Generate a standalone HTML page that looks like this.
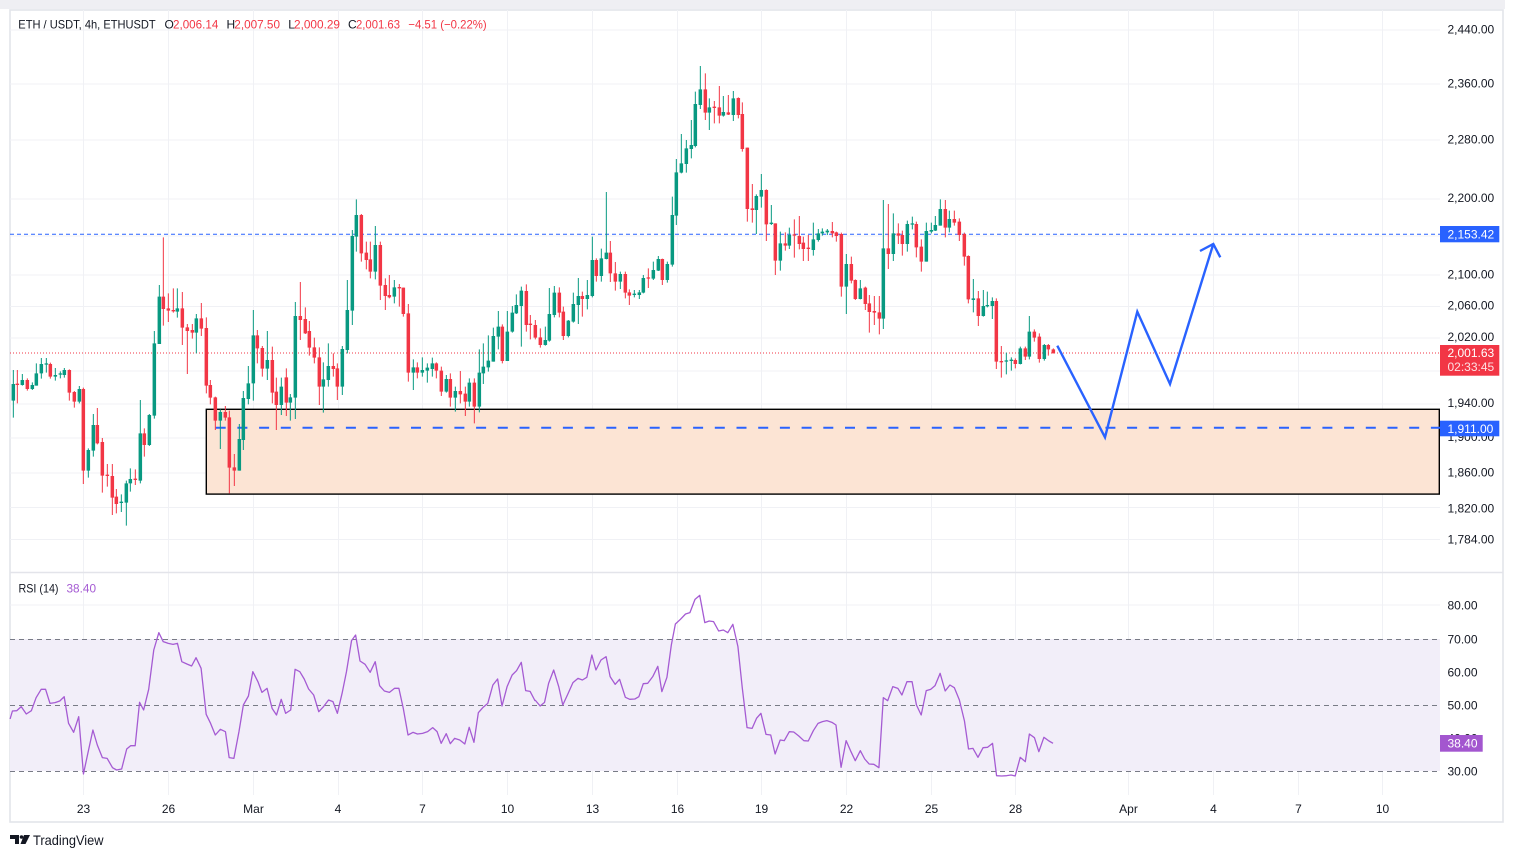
<!DOCTYPE html>
<html><head><meta charset="utf-8"><style>
html,body{margin:0;padding:0;background:#fff;width:1514px;height:858px;overflow:hidden}
svg{display:block}
text{font-family:"Liberation Sans",Arial,sans-serif}
</style></head><body>
<svg width="1514" height="858" viewBox="0 0 1514 858" xmlns="http://www.w3.org/2000/svg">
<rect x="0" y="0" width="1514" height="858" fill="#fff"/>
<rect x="0" y="0" width="1505" height="9" fill="#efeff3"/>
<rect x="10" y="10" width="1493" height="812" fill="#fff" stroke="#e3e4ea" stroke-width="1.6"/>
<g stroke="#f0f1f5" stroke-width="1">
<path d="M10 30H1440M10 84H1440M10 140H1440M10 199H1440M10 236H1440M10 275H1440M10 306.5H1440M10 338H1440M10 371H1440M10 404H1440M10 438H1440M10 473H1440M10 507.5H1440M10 539.5H1440"/>
<path d="M10 605H1440M10 672H1440M10 738H1440"/>
<path d="M83.5 10V795M168.5 10V795M253.5 10V795M338.5 10V795M422.5 10V795M507.5 10V795M592.5 10V795M677.5 10V795M761.5 10V795M846.5 10V795M931.5 10V795M1015.5 10V795M1128.5 10V795M1213.5 10V795M1298.5 10V795M1382.5 10V795"/>
</g>
<path d="M10 572.5H1503" stroke="#e3e4ea" stroke-width="1.5"/>
<rect x="206.3" y="409.3" width="1233" height="84.8" fill="#fce4d4" stroke="#000" stroke-width="1.4"/>
<path d="M10 234.3H1440" stroke="#2962ff" stroke-width="1" stroke-dasharray="4 3"/>
<path d="M215.7 427.7H1440" stroke="#2962ff" stroke-width="2" stroke-dasharray="10 11.7"/>
<path d="M10 353H1440" stroke="#f23645" stroke-width="1" stroke-dasharray="1 2"/>
<g fill="none" stroke-linecap="butt">
<g transform="translate(5,230) scale(0.333333)">
<path stroke="#089981" stroke-width="3" d="M25 420V563 M52 432V467 M82 457V480 M94 400V467 M109 384V446 M124 384V428 M151 414V452 M166 424V445 M178 414V443 M223 468V520 M250 655V743 M265 552V680 M349 793V846 M364 752V887 M376 715V785 M406 510V760 M433 552V648 M448 303V566 M463 165V342 M517 175V263 M574 252V370 M646 538V657 M703 582V722 M715 483V660 M730 408V523 M745 240V512 M787 303V450"/>
<path stroke="#089981" stroke-width="10.5" d="M25 462V512 M52 450V465 M82 465V477 M94 430V467 M109 402V430 M124 400V404 M151 435V440 M166 430V434 M178 420V435 M223 477V515 M250 660V722 M265 585V662 M349 815V819 M364 760V818 M376 747V760 M406 610V752 M433 555V645 M448 340V557 M463 200V342 M517 235V245 M574 265V308 M646 546V572 M703 627V722 M715 504V630 M730 460V507 M745 316V460 M787 390V416"/>
<path stroke="#f23645" stroke-width="3" d="M37 420V520 M67 445V482 M136 398V446 M193 418V512 M208 483V533 M235 473V762 M277 534V643 M292 624V788 M307 702V770 M322 702V855 M334 777V850 M391 718V765 M418 595V680 M475 22V287 M490 190V276 M505 175V248 M532 186V345 M547 282V432 M562 282V326 M589 219V318 M604 262V490 M616 450V523 M631 500V600 M661 528V572 M673 542V790 M688 672V768 M757 300V400 M772 348V440"/>
<path stroke="#f23645" stroke-width="10.5" d="M37 461V465 M67 450V477 M136 402V440 M193 420V488 M208 486V515 M235 477V722 M277 585V640 M292 636V737 M307 734V738 M322 738V803 M334 800V822 M391 746V750 M418 610V645 M475 200V237 M490 235V242 M505 240V244 M532 235V293 M547 292V303 M562 300V308 M589 265V296 M604 294V467 M616 465V503 M631 502V572 M661 546V563 M673 562V713 M688 712V722 M757 316V355 M772 354V416"/>
</g>
<g transform="translate(265,190) scale(0.333333)">
<path stroke="#089981" stroke-width="3" d="M49 563V675 M76 612V692 M91 336V687 M175 517V668 M190 460V590 M232 468V615 M247 270V490 M262 120V405 M274 28V185 M331 108V268 M388 270V340 M445 508V600 M472 502V560 M487 520V578 M502 503V560 M544 555V608 M571 590V665 M613 565V650 M643 478V667 M655 460V582 M670 436V545 M685 413V515 M700 363V478 M727 363V513 M742 348V428 M754 313V372 M769 290V470"/>
<path stroke="#089981" stroke-width="10.5" d="M49 590V645 M76 622V638 M91 378V623 M175 568V590 M190 528V570 M232 477V590 M247 360V480 M262 138V362 M274 75V140 M331 165V245 M388 292V320 M445 532V548 M472 540V548 M487 533V542 M502 520V537 M544 567V605 M571 603V623 M613 578V635 M643 548V650 M655 530V550 M670 512V532 M685 438V515 M700 410V440 M727 425V513 M742 368V425 M754 345V370 M769 302V348"/>
<path stroke="#f23645" stroke-width="3" d="M22 470V640 M34 563V720 M64 535V678 M106 276V450 M121 352V432 M133 393V497 M148 443V520 M163 472V645 M205 490V560 M217 520V630 M289 72V215 M304 155V238 M316 155V265 M346 155V330 M361 265V360 M373 255V325 M403 282V350 M415 293V380 M430 342V575 M457 517V565 M514 517V565 M529 530V618 M556 550V650 M586 543V640 M601 590V678 M628 565V700 M712 403V520"/>
<path stroke="#f23645" stroke-width="10.5" d="M22 510V608 M34 605V645 M64 562V638 M106 378V390 M121 387V430 M133 423V473 M148 472V503 M163 502V590 M205 528V537 M217 535V590 M289 75V190 M304 188V210 M316 208V245 M346 165V287 M361 285V318 M373 315V322 M403 291V295 M415 293V372 M430 370V548 M457 532V548 M514 520V542 M529 542V605 M556 567V623 M586 603V613 M601 611V635 M628 578V650 M712 410V513"/>
</g>
<g transform="translate(525,60) scale(0.333333)">
<path stroke="#089981" stroke-width="3" d="M61 800V857 M73 684V845 M88 678V772 M130 780V832 M145 698V788 M160 654V792 M187 660V748 M202 530V712 M229 566V665 M244 396V598 M286 635V687 M328 690V712 M343 690V717 M355 645V700 M385 605V660 M400 588V633 M427 605V668 M442 410V620 M454 297V495 M469 222V340 M484 240V338 M499 180V295 M511 95V262 M526 18V147 M553 115V210 M595 108V170 M625 93V183 M694 403V522 M709 342V443 M739 435V495 M766 515V632"/>
<path stroke="#089981" stroke-width="10.5" d="M61 840V855 M73 762V842 M88 698V765 M130 782V828 M145 732V785 M160 708V735 M187 705V717 M202 600V708 M229 595V648 M244 578V597 M286 642V665 M328 701V705 M343 697V705 M355 654V698 M385 630V656 M400 597V632 M427 612V660 M442 465V614 M454 337V467 M469 310V338 M484 265V312 M499 255V267 M511 132V258 M526 88V135 M553 142V158 M595 156V167 M625 115V165 M694 408V450 M709 390V410 M739 488V492 M766 550V602"/>
<path stroke="#f23645" stroke-width="3" d="M4 673V815 M16 765V838 M31 780V838 M46 805V863 M103 682V772 M115 740V840 M172 695V770 M214 595V665 M256 543V666 M271 606V692 M301 635V715 M313 688V735 M370 625V684 M412 596V675 M541 40V180 M568 123V190 M583 78V190 M610 105V165 M640 112V175 M652 127V275 M667 263V485 M682 372V488 M724 388V543 M751 490V645 M781 517V572"/>
<path stroke="#f23645" stroke-width="10.5" d="M4 693V795 M16 791V795 M31 795V833 M46 832V855 M103 698V758 M115 755V828 M172 708V717 M214 600V648 M256 578V640 M271 640V665 M301 642V698 M313 697V707 M370 652V656 M412 597V660 M541 88V158 M568 140V144 M583 142V167 M610 157V164 M640 114V165 M652 162V267 M667 263V447 M682 445V450 M724 390V493 M751 490V602 M781 550V557"/>
</g>
<g transform="translate(785,190) scale(0.333333)">
<path stroke="#089981" stroke-width="3" d="M13 113V177 M85 98V197 M100 117V155 M112 115V137 M127 117V135 M184 192V372 M226 270V328 M295 30V417 M325 70V213 M367 92V185 M382 80V118 M424 98V215 M439 98V130 M451 78V123 M466 28V107 M493 62V127 M565 267V367 M595 300V380 M607 305V352 M622 322V387 M664 488V553 M679 502V542 M706 470V523 M733 378V508 M778 462V512"/>
<path stroke="#089981" stroke-width="10.5" d="M13 135V167 M85 148V180 M100 130V150 M112 125V130 M127 122V127 M184 222V290 M226 295V327 M295 175V386 M325 130V192 M367 102V162 M382 100V104 M424 123V215 M439 120V125 M451 105V122 M466 57V107 M493 87V113 M565 325V330 M595 348V378 M607 345V349 M622 333V348 M664 511V515 M679 509V513 M706 475V522 M733 425V500 M778 465V507"/>
<path stroke="#f23645" stroke-width="3" d="M28 88V203 M43 78V178 M55 140V213 M70 135V213 M142 96V142 M154 125V155 M169 128V320 M199 200V280 M211 268V330 M241 290V360 M253 315V428 M268 318V405 M283 318V433 M310 42V237 M340 100V162 M352 122V197 M394 95V202 M409 148V245 M481 30V142 M508 62V107 M523 85V153 M538 128V227 M550 196V340 M580 303V408 M634 325V537 M649 468V563 M691 505V535 M721 470V510 M748 418V455 M763 430V518 M790 462V497 M805 475V490"/>
<path stroke="#f23645" stroke-width="10.5" d="M28 133V137 M43 138V162 M55 158V177 M70 173V177 M142 123V130 M154 127V138 M169 132V290 M199 222V272 M211 270V327 M241 293V342 M253 340V366 M268 363V368 M283 367V386 M310 175V192 M340 130V137 M352 135V162 M394 102V172 M409 170V215 M481 57V113 M508 87V98 M523 95V135 M538 132V200 M550 198V328 M580 325V378 M634 333V515 M649 513V517 M691 510V522 M721 475V500 M748 425V443 M763 440V507 M790 465V478 M805 478V490"/>
</g>
</g>
<path d="M1057.3 345.7L1105 437.3L1137.3 311.7L1170 384L1213.3 244M1200 251L1213.3 244L1220.3 257.3" fill="none" stroke="#2962ff" stroke-width="2.4" stroke-linejoin="miter"/>
<rect x="10" y="639" width="1430" height="132" fill="#f2eef9"/>
<path d="M10 639.5H1440M10 705.5H1440M10 771.5H1440" stroke="#787b86" stroke-width="1" stroke-dasharray="5 4"/>
<g fill="none" stroke="#a55bd3" stroke-width="1.3" stroke-linejoin="round">
<polyline transform="translate(5,575) scale(0.3381,0.333333)" vector-effect="non-scaling-stroke" points="15,432 22,408 35,407 48,395 63,417 78,407 92,368 107,343 120,343 133,385 148,383 162,378 175,365 188,445 203,472 218,425 232,597 245,535 260,465 273,510 288,548 302,550 318,578 330,585 345,582 360,522 372,512 385,512 398,382 410,405 425,343 440,225 455,173 468,200 483,205 497,208 510,205 523,260 538,267 552,273 565,248 580,280 595,418 608,445 622,480 637,463 652,470 663,548 677,550 692,470 705,390 720,363 733,290 748,320 760,352 775,340 790,400 803,420 817,373 830,415 845,405 858,283 872,290 885,312 898,342 913,360 928,410 942,395 957,375 970,380 983,415 997,355 1010,290 1025,197 1037,180 1050,258 1065,268 1080,292 1095,260 1108,332 1122,348 1137,352 1152,340 1165,340 1178,400 1192,480 1207,472 1220,477 1235,475 1250,470 1265,458 1278,470 1290,505 1305,476 1317,506 1330,490 1345,495 1360,507 1373,457 1387,502 1400,413 1413,398 1428,385 1443,330 1457,312 1470,393 1485,335 1500,300 1513,287 1527,262 1540,347 1553,349 1568,378"/>
<polyline transform="translate(530,585) scale(0.3381,0.333333)" vector-effect="non-scaling-stroke" points="15,345 30,363 43,352 55,295 70,255 85,305 97,360 112,327 127,293 142,280 155,285 168,277 183,210 195,255 210,225 225,215 237,275 252,298 265,283 282,337 295,343 310,342 322,335 335,296 348,295 363,275 378,244 390,320 405,277 418,180 430,117 445,103 460,87 473,83 488,43 502,31 517,113 530,108 543,110 558,138 572,135 585,143 600,118 615,185 628,310 642,428 657,430 670,400 683,385 698,448 712,450 725,507 740,465 752,467 767,440 780,441 795,453 810,467 823,468 838,437 852,415 865,410 878,407 893,412 905,420 920,547 935,467 948,497 962,527 977,497 990,522 1003,537 1017,538 1032,548 1045,338 1058,347 1073,305 1088,310 1100,330 1115,290 1130,290 1143,360 1157,390 1172,317 1185,313 1198,302 1213,265 1228,318 1242,300 1255,308 1270,345 1285,408 1297,492 1310,490 1325,517 1340,488 1353,487 1368,475 1380,572 1395,573 1410,572 1423,570 1435,573 1450,517 1465,530 1477,447 1492,458 1505,500 1520,457 1535,468 1547,475"/>
</g>
<g font-size="12" fill="#131722">
<text x="1447.5" y="33.5">2,440.00</text>
<text x="1447.5" y="87.5">2,360.00</text>
<text x="1447.5" y="143.5">2,280.00</text>
<text x="1447.5" y="202">2,200.00</text>
<text x="1447.5" y="278.5">2,100.00</text>
<text x="1447.5" y="309.5">2,060.00</text>
<text x="1447.5" y="341">2,020.00</text>
<text x="1447.5" y="407">1,940.00</text>
<text x="1447.5" y="441">1,900.00</text>
<text x="1447.5" y="476.5">1,860.00</text>
<text x="1447.5" y="512.5">1,820.00</text>
<text x="1447.5" y="543.5">1,784.00</text>
<text x="1447.5" y="609.5">80.00</text>
<text x="1447.5" y="643.5">70.00</text>
<text x="1447.5" y="676.5">60.00</text>
<text x="1447.5" y="709.5">50.00</text>
<text x="1447.5" y="742.5">40.00</text>
<text x="1447.5" y="775.5">30.00</text>
</g>
<rect x="1440" y="226" width="59.3" height="16.3" fill="#2962ff"/>
<text x="1447.5" y="238.5" font-size="12" fill="#fff">2,153.42</text>
<rect x="1440" y="345" width="59.3" height="30.7" fill="#f23645"/>
<text x="1447.5" y="357" font-size="12" fill="#fff">2,001.63</text>
<text x="1447.5" y="371" font-size="12" fill="#fde0e3">02:33:45</text>
<rect x="1440" y="420.7" width="59.3" height="15.6" fill="#2962ff"/>
<text x="1447.5" y="432.8" font-size="12" fill="#fff">1,911.00</text>
<rect x="1440" y="735" width="42.7" height="16.7" fill="#a356cf"/>
<text x="1447.5" y="747.5" font-size="12" fill="#fff">38.40</text>
<g font-size="12" fill="#131722" text-anchor="middle">
<text x="83.5" y="813">23</text>
<text x="168.5" y="813">26</text>
<text x="253.5" y="813">Mar</text>
<text x="338" y="813">4</text>
<text x="422.5" y="813">7</text>
<text x="507.5" y="813">10</text>
<text x="592.5" y="813">13</text>
<text x="677.5" y="813">16</text>
<text x="761.5" y="813">19</text>
<text x="846.5" y="813">22</text>
<text x="931.5" y="813">25</text>
<text x="1015.5" y="813">28</text>
<text x="1128.5" y="813">Apr</text>
<text x="1213.5" y="813">4</text>
<text x="1298.5" y="813">7</text>
<text x="1382.5" y="813">10</text>
</g>
<g font-size="12">
<text x="18.3" y="28.5" fill="#131722" textLength="137.4" lengthAdjust="spacingAndGlyphs">ETH / USDT, 4h, ETHUSDT</text>
<text x="164.5" y="28.5" fill="#131722">O</text>
<text x="173" y="28.5" fill="#f23645" textLength="45.3" lengthAdjust="spacingAndGlyphs">2,006.14</text>
<text x="226.5" y="28.5" fill="#131722">H</text>
<text x="234.3" y="28.5" fill="#f23645" textLength="45.7" lengthAdjust="spacingAndGlyphs">2,007.50</text>
<text x="288.3" y="28.5" fill="#131722">L</text>
<text x="294" y="28.5" fill="#f23645" textLength="46" lengthAdjust="spacingAndGlyphs">2,000.29</text>
<text x="348" y="28.5" fill="#131722">C</text>
<text x="356" y="28.5" fill="#f23645" textLength="44" lengthAdjust="spacingAndGlyphs">2,001.63</text>
<text x="408.3" y="28.5" fill="#f23645" textLength="78.4" lengthAdjust="spacingAndGlyphs">−4.51 (−0.22%)</text>
<text x="18.5" y="592.5" fill="#131722" textLength="40" lengthAdjust="spacingAndGlyphs">RSI (14)</text>
<text x="66.5" y="592.5" fill="#a55bd3" textLength="29.5" lengthAdjust="spacingAndGlyphs">38.40</text>
</g>
<g fill="#131722">
<path d="M10 835H19V844H15V839H10Z"/>
<circle cx="21.5" cy="837" r="1.8"/>
<path d="M24 835H30L25.5 844H20.5Z"/>
</g>
<text x="33" y="845" font-size="14" fill="#131722" textLength="70.5" lengthAdjust="spacingAndGlyphs">TradingView</text>
</svg>
</body></html>
